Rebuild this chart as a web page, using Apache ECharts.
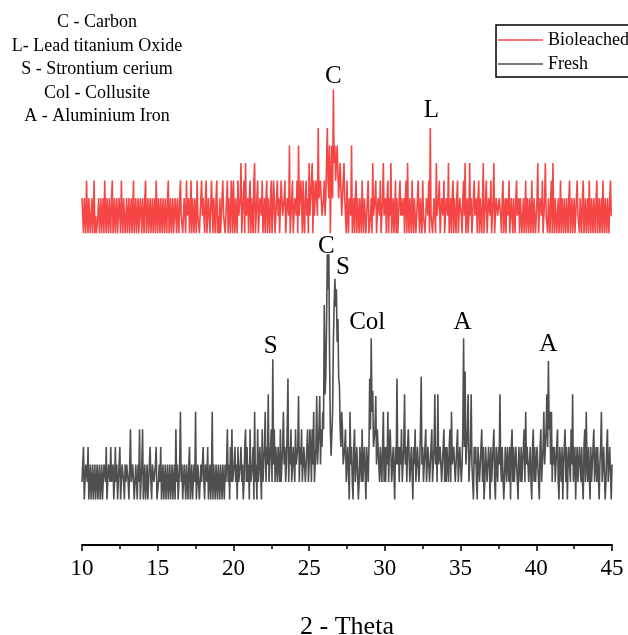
<!DOCTYPE html>
<html><head><meta charset="utf-8">
<script src="https://cdn.jsdelivr.net/npm/echarts@6/dist/echarts.min.js"></script>
<style>html,body{margin:0;padding:0;background:#fff}#chart{width:628px;height:635px}</style>
</head><body><div id="chart"></div>
<script>
// ---- data (2-theta sampled from 10.00 to 45.00 in 0.05 steps, one row = 1 degree) ----
const twoThetaStart = 10;
const twoThetaStep = 0.05;

const bioleached = [
  2,1,0,2,1,0,3,1,0,2,2,0,1,2,0,1,3,0,1,0,
  0,1,2,0,1,2,0,1,2,0,3,1,0,2,1,0,2,1,0,2,
  3,0,1,2,0,1,2,0,0,2,1,0,3,1,0,2,2,0,1,2,
  0,1,2,0,1,2,0,1,3,0,1,2,0,1,2,0,0,2,1,0,
  2,1,0,2,3,0,1,2,0,1,2,0,1,2,0,1,2,0,3,1,
  0,2,1,0,2,1,0,2,1,0,2,1,0,2,3,0,1,2,0,1,
  2,0,0,2,1,0,2,1,0,2,3,1,1,0,0,2,2,0,3,1,
  1,2,0,1,3,0,2,1,0,2,2,0,3,1,1,0,0,2,3,1,
  2,1,0,2,3,0,1,2,2,0,0,3,3,0,2,1,0,2,3,0,
  1,0,2,0,0,2,3,1,1,0,0,2,3,0,2,1,0,3,2,0,
  3,1,0,2,2,0,3,1,1,2,4,0,0,2,3,0,4,1,1,2,
  0,2,3,0,2,1,0,3,4,0,1,2,3,0,0,2,2,1,3,0,
  1,2,0,2,3,0,2,1,0,2,3,0,1,3,2,0,0,2,3,1,
  2,0,0,3,3,1,1,2,3,0,0,2,2,1,5,0,1,2,3,0,
  0,2,2,1,3,0,5,1,1,3,2,0,3,1,0,2,3,1,2,0,
  4,1,1,3,4,0,3,1,2,3,3,1,6,2,2,3,3,1,1,2,
  3,1,2,4,6,3,2,5,0,3,5,2,8.2,4,5,3,3,5,5,2,
  2,4,4,1,1,3,4,2,2,0,3,1,0,2,2,1,5,0,1,2,
  0,2,3,0,2,1,0,2,1,0,3,1,0,2,2,0,1,2,3,0,
  0,1,2,0,4,1,1,2,3,0,0,2,2,1,3,0,0,2,4,1,
  1,2,0,2,3,0,2,1,4,0,1,2,0,1,3,0,2,0,1,2,
  3,1,2,1,1,2,0,2,3,0,4,1,0,2,2,0,3,1,0,2,
  2,0,1,2,3,1,0,2,2,0,3,1,1,0,0,2,2,1,3,0,
  6,1,1,0,0,2,2,0,4,1,1,2,3,0,0,2,2,1,3,0,
  0,2,2,1,4,0,1,2,0,2,3,0,2,1,0,2,3,0,1,2,
  2,1,0,2,3,1,4,0,1,2,0,1,4,1,2,0,0,2,3,1,
  1,2,0,2,3,0,2,1,0,2,4,0,1,2,3,0,0,2,2,1,
  3,0,0,2,4,0,1,2,2,1,1,2,2,1,0,2,3,0,1,2,
  0,2,2,1,3,0,0,2,1,0,2,1,0,2,3,1,1,2,0,2,
  2,0,1,2,0,1,3,0,2,1,0,2,1,0,3,1,0,2,2,0,
  1,2,4,0,0,2,2,1,3,0,0,2,4,1,1,0,2,1,0,2,
  3,0,4,1,0,2,2,0,1,2,0,1,3,0,2,1,0,2,1,0,
  2,1,0,2,3,0,1,2,0,1,2,0,0,2,3,1,1,0,2,1,
  0,2,3,0,1,2,0,1,2,0,3,1,0,2,1,0,2,1,0,2,
  3,0,1,2,0,1,2,0,3,1,0,2,1,0,2,1,0,2,3,1,
  1
];

const fresh = [
  1,2,3,0,0,2,2,1,3,0,1,2,0,1,2,0,1,2,0,1,
  2,0,1,2,0,1,2,0,1,2,2,1,3,0,0,2,2,1,3,1,
  1,2,0,1,3,1,2,0,0,2,3,0,1,2,2,1,0,2,1,2,
  2,1,0,2,4,1,1,2,2,0,0,2,1,0,2,1,4,0,1,2,
  4,0,1,2,0,1,2,0,1,2,3,1,0,2,2,1,1,2,3,0,
  0,1,2,1,3,0,1,2,0,1,2,0,1,2,0,1,2,0,1,2,
  0,1,2,0,4,1,2,0,1,2,5,1,2,0,0,2,1,0,2,1,
  0,2,3,0,1,2,0,1,2,1,5,0,1,2,2,0,0,2,1,2,
  3,1,0,2,2,1,3,0,1,2,0,1,5,0,2,1,0,2,1,0,
  2,1,0,2,1,0,2,1,0,2,1,2,4,1,2,0,3,1,4,1,
  1,2,3,1,2,0,3,1,1,2,3,1,2,0,1,3,4,1,3,1,
  2,0,4,1,1,2,3,0,5,1,2,0,4,1,1,3,3,0,4,1,
  2,3,5,1,3,2,6,1,2,3,4,1,8,2,4,1,3,2,1,3,
  2,1,4,1,1,3,5,2,3,1,2,4,6.9,1,3,2,4,1,1,3,
  3,1,4,2,2,3,5.9,1,3,2,4,1,2,3,3,1,1,3,4,1,
  2,4,3,1,4,2,5,1,1,3,5.9,2,3,4,5.9,2,4,3,5,4,
  11.1,6,7,10,14,12,14,8,4,2.5,2.5,5,9,11,12.6,11,12,9,10.3,7,
  6.5,4,3,5,4,2,2,3,4,1,1,3,3,0,5,2,3,1,0,3,
  4,1,2,3,3,0,1,3,3,1,4,1,2,3,3,0,3,2,1,3,
  6.9,4,9.2,5,6.2,3,3,4,5.9,2,4,3,2,1,3,2,1,3,5,1,
  3,1,3,2,5,1,3,4,4,1,2,3,3,0,3,2,6.9,2,3,1,
  3,2,4,1,2,3,6,2,3,1,3,4,4,1,2,3,3,0,3,2,
  4,1,2,3,3,1,2,4,7,2,3,1,2,3,4,1,2,3,3,1,
  2,3,4,1,2,3,6,2,3,1,6,2,2,3,3,1,2,3,4,1,
  3,1,3,2,1,3,4,1,5,2,2,3,3,1,2,3,4,1,2,3,
  3,1,2,4,9.2,3,7.3,2,3,4,6,1,2,3,6,2,1,0,3,2,
  3,1,0,3,3,1,2,3,4,1,3,0,1,3,3,1,2,3,2,0,
  3,1,2,3,4,1,0,3,2,1,3,2,6,2,1,3,3,0,1,3,
  2,1,3,2,1,3,0,3,4,1,3,1,2,3,3,1,0,3,2,1,
  3,1,2,3,4,1,5,2,3,3,1,2,3,1,0,3,4,1,3,1,
  1,3,3,1,0,3,4,1,2,3,5,2,3,4,6,3,7.9,4,5,2,
  5,1,3,2,3,1,2,3,4,1,0,3,2,1,3,0,2,3,4,1,
  3,0,2,3,3,1,4,2,6,1,2,3,0,2,3,1,2,3,2,1,
  3,1,0,3,4,1,5,2,1,3,3,0,3,1,2,3,4,1,2,3,
  1,3,3,0,2,3,5,1,2,3,3,0,1,3,4,1,2,3,3,0,
  2
];

const xMin = 10, xMax = 45, xInterval = 5;
const seriesNames = ['Bioleached', 'Fresh'];
const phaseKey = ['C - Carbon', 'L- Lead titanium Oxide', 'S - Strontium cerium', 'Col - Collusite', 'A - Aluminium Iron'];
const bioPeakNames = ['C', 'L'];
const bioPeakTheta = [26.6, 33.0];
const freshPeakNames = ['C', 'S', 'Col', 'S', 'A', 'A'];
const freshPeakTheta = [26.2, 26.7, 29.1, 22.6, 35.2, 40.8];

// ---- layout / style ----
const BIO_OFFSET = 15.2;          // vertical stacking offset of the bioleached trace
const bioLabelOffset = [[0, -13], [1, -18]];
const freshLabelOffset = [[-1, -8], [8, -11], [-4, -16], [-2, -13], [-1, -16], [0, -17]];
const FONT = 'Liberation Serif';

function toXY(arr, off) {
  return arr.map((v, i) => [+(twoThetaStart + i * twoThetaStep).toFixed(2), v + off]);
}
function valAt(arr, theta) {
  return arr[Math.round((theta - twoThetaStart) / twoThetaStep)];
}
function peaks(names, thetas, arr, off, offsets) {
  return names.map((n, k) => ({
    name: n,
    coord: [thetas[k], valAt(arr, thetas[k]) + off],
    label: { offset: offsets[k] }
  }));
}
const mpBase = {
  symbol: 'circle', symbolSize: 1, silent: true,
  itemStyle: { color: 'transparent' },
  label: { show: true, position: 'inside', formatter: '{b}', color: '#000', fontFamily: FONT, fontSize: 25 }
};
const expectedLen = Math.round((xMax - xMin) / twoThetaStep) + 1;
const graphics = [{
  type: 'text', x: 97, y: 11,
  style: { text: phaseKey.join('\n'), fill: '#000', font: '18px ' + FONT, textAlign: 'center', lineHeight: 23.5 }
}];
if (bioleached.length !== expectedLen || fresh.length !== expectedLen) {
  graphics.push({ type: 'text', x: 200, y: 300, style: { text: 'LEN ' + bioleached.length + ' / ' + fresh.length, fill: 'blue', font: '30px sans-serif' } });
}

const chart = echarts.init(document.getElementById('chart'), null, { renderer: 'canvas' });
chart.setOption({
  animation: false,
  backgroundColor: '#fff',
  grid: { left: 82, right: 16, top: 58, bottom: 90, containLabel: false, outerBoundsMode: 'none' },
  legend: {
    data: seriesNames,
    orient: 'vertical',
    left: 496, top: 25,
    icon: 'rect',
    itemWidth: 45, itemHeight: 1.5, itemGap: 6,
    padding: [6, 8, 4, 2],
    borderColor: '#000', borderWidth: 1.5,
    textStyle: { fontFamily: FONT, fontSize: 18, color: '#000', lineHeight: 17 }
  },
  graphic: graphics,
  xAxis: {
    type: 'value', min: xMin, max: xMax, interval: xInterval,
    name: '2 - Theta', nameLocation: 'middle', nameGap: 69,
    nameTextStyle: { fontFamily: FONT, fontSize: 26, color: '#000' },
    axisLine: { show: true, onZero: false, lineStyle: { color: '#000', width: 2 } },
    axisTick: { show: true, length: 6, lineStyle: { color: '#000', width: 1.5 } },
    minorTick: { show: true, splitNumber: 2, length: 4, lineStyle: { color: '#000', width: 1.5 } },
    axisLabel: { margin: 12, fontFamily: FONT, fontSize: 23, color: '#000' },
    splitLine: { show: false }
  },
  yAxis: { type: 'value', min: -2.6, max: 25.2, show: false, splitLine: { show: false } },
  series: [
    {
      name: seriesNames[0], type: 'line', symbol: 'none', sampling: 'none',
      data: toXY(bioleached, BIO_OFFSET),
      lineStyle: { color: '#f54646', width: 1.6 }, itemStyle: { color: '#f54646' },
      markPoint: Object.assign({}, mpBase, { data: peaks(bioPeakNames, bioPeakTheta, bioleached, BIO_OFFSET, bioLabelOffset) })
    },
    {
      name: seriesNames[1], type: 'line', symbol: 'none', sampling: 'none',
      data: toXY(fresh, 0),
      lineStyle: { color: '#4f4f4f', width: 1.6 }, itemStyle: { color: '#4f4f4f' },
      markPoint: Object.assign({}, mpBase, { data: peaks(freshPeakNames, freshPeakTheta, fresh, 0, freshLabelOffset) })
    }
  ]
});
</script></body></html>
